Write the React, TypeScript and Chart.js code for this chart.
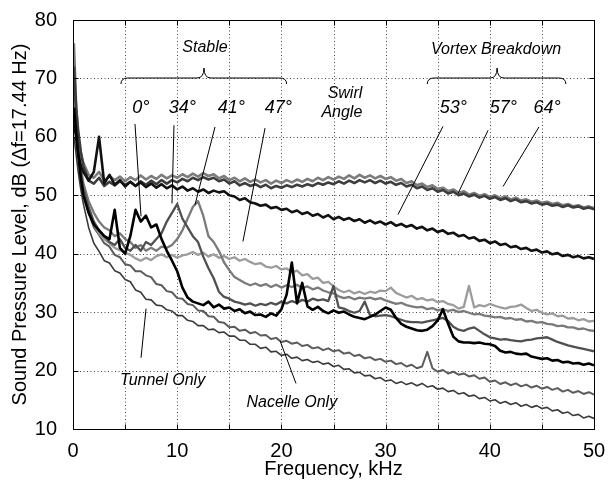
import { useEffect, useRef } from "react";
import { Chart, registerables } from "chart.js";

Chart.register(...registerables);

// Frequency grid of the narrow-band spectra (kHz)
const FREQ_KHZ = [
  0.1, 0.3, 0.5, 0.75,
  1, 1.5, 2, 2.5, 3, 3.5, 4, 4.5, 5, 5.5,
  6, 6.5, 7, 7.5, 8, 8.5, 9, 9.5, 10, 10.5,
  11, 11.5, 12, 12.5, 13, 13.5, 14, 14.5, 15, 15.5,
  16, 16.5, 17, 17.5, 18, 18.5, 19, 19.5, 20, 20.5,
  21, 21.5, 22, 22.5, 23, 23.5, 24, 24.5, 25, 25.5,
  26, 26.5, 27, 27.5, 28, 28.5, 29, 29.5, 30, 30.5,
  31, 31.5, 32, 32.5, 33, 33.5, 34, 34.5, 35, 35.5,
  36, 36.5, 37, 37.5, 38, 38.5, 39, 39.5, 40, 40.5,
  41, 41.5, 42, 42.5, 43, 43.5, 44, 44.5, 45, 45.5,
  46, 46.5, 47, 47.5, 48, 48.5, 49, 49.5, 50,
];

// Sound pressure level (dB) for each swirl angle and the two baselines
const SPL_0 = [
  65, 61, 57, 53,
  50, 47, 45, 44, 43, 42.5, 47.5, 41, 40, 43,
  47.5, 45.5, 46.5, 44.5, 45.0, 42.5, 40.5, 38.8, 37.0, 34.2,
  32.5, 31.8, 31.5, 31.2, 31.8, 30.8, 31.3, 30.6, 30.8, 30.2,
  30.5, 29.8, 30.1, 29.5, 29.6, 29.2, 29.8, 29.4, 30.5, 33.0,
  38.5, 31.5, 35.0, 31.0, 30.4, 30.9, 30.2, 29.8, 30.3, 29.9,
  30.1, 29.6, 29.2, 29.0, 28.8, 29.2, 29.6, 30.2, 30.8, 30.4,
  29.0, 28.0, 27.5, 27.2, 26.9, 26.8, 27.0, 27.6, 28.6, 30.5,
  28.0, 25.8, 25.0, 24.8, 24.8, 24.7, 24.8, 24.6, 24.5, 24.2,
  23.4, 23.1, 23.2, 22.9, 22.8, 22.9, 22.4, 22.2, 22.0, 22.1,
  21.7, 21.8, 21.4, 21.5, 21.2, 21.3, 21.0, 21.2, 20.9,
];

const SPL_34 = [
  70, 63, 58, 54,
  51, 48, 45.5, 44, 43, 42, 41.5, 42.5, 41, 40.5,
  41.5, 40.5, 42, 41.5, 42.5, 43.5, 45.5, 47, 48.5, 46,
  44.5, 43, 42, 39.5, 37.5, 35.8, 33.5, 32.6, 32.3, 31.8,
  31.6, 31.3, 31.5, 31.1, 31.4, 31.2, 31.6, 31.3, 31.8, 31.5,
  31.9, 31.6, 32.1, 31.8, 32.3, 32.0, 32.2, 31.9, 34.5, 30.8,
  30.6, 30.2, 29.9, 30.2, 31.8, 29.5, 29.3, 29.4, 29.5, 29.3,
  29.0, 28.7, 28.4, 28.3, 28.3, 28.2, 28.4, 28.6, 28.8, 29.0,
  28.5, 27.5, 27.0, 26.8, 27.2, 27.4, 26.8, 26.2, 25.7, 25.5,
  25.3, 25.4, 25.2, 25.1, 25.0, 25.2, 25.3, 25.5, 25.6, 25.7,
  25.3, 24.9, 24.6, 24.3, 24.1, 23.9, 23.7, 23.5, 23.3,
];

const SPL_41 = [
  76, 66, 60, 55,
  52, 49, 47, 45.5, 44.5, 44, 43, 43.5, 42.5, 42,
  41, 41.5, 40.5, 41, 40.5, 41.2, 41, 41.5, 42.5, 44,
  46, 48, 49, 46.5, 43, 42, 40.5, 38.5, 37.2, 36,
  35.5, 35, 34.6, 34.9, 34.5, 34.8, 34.3, 34.7, 34.2, 34.6,
  34.3, 34.7, 34.1, 34.4, 33.9, 34.2, 33.7, 33.4, 33.2, 32.7,
  32.4, 32.6, 32.2, 32.5, 32.3, 32.5, 32.2, 32.4, 32.0, 31.7,
  31.4, 31.6, 31.2, 31.0, 30.8, 30.9, 30.5, 30.7, 30.3, 30.5,
  30.2, 30.4, 30.0, 30.2, 29.9, 29.6, 29.7, 29.4, 29.3, 29.1,
  29.2, 28.9, 29.0, 28.7, 28.8, 28.4, 28.5, 28.2, 28.3, 28.0,
  27.9, 27.6, 27.7, 27.4, 27.4, 27.1, 27.2, 26.9, 26.8,
];

const SPL_47 = [
  68, 62, 58, 54,
  51, 47.5, 45, 43.5, 42.5, 41.8, 41, 40.6, 40.2, 39.8,
  39.2, 38.8, 39.3, 38.9, 39.6, 39.9, 39.4, 39.8, 39.3, 39.7,
  39.9, 40.3, 39.8, 40.2, 39.5, 39.9, 39.3, 39.6, 39.1, 39.4,
  38.8, 39.1, 38.6, 38.2, 38.4, 37.8, 37.6, 37.9, 37.3, 37.5,
  36.8, 37.1, 36.3, 36.5, 35.7, 35.9, 35.0, 35.2, 34.4, 33.8,
  33.4, 33.7, 33.2, 33.5, 33.1, 33.5, 33.3, 33.7, 33.6, 34.2,
  33.3, 32.9, 32.5, 32.8, 32.2, 32.4, 32.0, 32.2, 31.7, 31.9,
  31.4, 31.2, 30.6, 30.9, 34.5, 30.8, 31.2, 31.0, 31.4, 31.1,
  30.8, 30.6, 30.9, 31.0, 31.3, 30.7, 30.2, 30.4, 29.9, 29.6,
  29.8, 29.3, 29.4, 28.9, 29.0, 28.6, 28.8, 28.4, 28.5,
];

const SPL_53 = [
  62, 60, 57, 55,
  54, 52.5, 54, 60, 52, 53.5, 51.8, 52.6, 51.5, 52.3,
  51.6, 52.2, 51.4, 52.0, 51.3, 51.9, 51.2, 51.7, 51.0, 51.5,
  50.8, 51.2, 50.6, 51.0, 50.4, 50.8, 50.5, 50.7, 50.0, 49.8,
  49.2, 49.5, 48.8, 48.6, 48.2, 48.4, 47.8, 48.0, 47.5, 47.7,
  47.1, 47.4, 46.8, 47.1, 46.5, 46.8, 46.2, 46.6, 45.9, 46.3,
  45.8, 46.1, 45.6, 45.9, 45.3, 45.7, 45.2, 45.5, 45.0, 45.4,
  44.8, 45.1, 44.6, 44.9, 44.3, 44.6, 44.0, 44.3, 43.7, 44.0,
  43.4, 43.6, 43.0, 43.2, 42.6, 42.8, 42.2, 42.4, 41.8, 42.1,
  41.5, 41.7, 41.1, 41.3, 40.8, 41.0, 40.5, 40.7, 40.2, 40.4,
  39.9, 40.1, 39.6, 39.8, 39.4, 39.6, 39.2, 39.4, 39.1,
];

const SPL_57 = [
  72, 65, 61, 57.5,
  55, 52.5, 52, 53, 51.6, 52.3, 51.7, 52.4, 51.8, 52.3,
  51.6, 52.4, 51.8, 52.5, 51.9, 52.6, 52.0, 52.6, 52.2, 52.8,
  52.4, 53.0, 52.6, 53.1, 52.7, 53.0, 52.4, 52.7, 52.0, 52.4,
  51.7, 52.1, 51.6, 51.9, 51.4, 51.8, 51.2, 51.6, 51.3, 51.7,
  51.4, 51.8, 51.5, 51.9, 51.6, 52.1, 51.8, 52.2, 51.9, 52.4,
  52.0, 52.5, 52.1, 52.6, 52.2, 52.6, 52.1, 52.5, 52.0, 52.3,
  51.8, 52.1, 51.5, 51.8, 51.2, 51.5, 50.9, 51.2, 50.6, 50.9,
  50.3, 50.6, 50.0, 50.3, 49.8, 50.1, 49.6, 49.9, 49.4, 49.7,
  49.2, 49.5, 49.0, 49.3, 48.8, 49.0, 48.6, 48.8, 48.4, 48.6,
  48.2, 48.4, 48.0, 48.3, 47.9, 48.1, 47.7, 47.9, 47.6,
];

const SPL_64 = [
  66, 63, 60, 57,
  55.5, 53.5, 53.0, 54.0, 52.5, 53.3, 52.6, 53.2, 52.4, 53.1,
  52.6, 53.4, 52.7, 53.3, 52.8, 53.5, 52.9, 53.4, 53.0, 53.6,
  53.1, 53.7, 53.2, 53.8, 53.3, 53.6, 52.9, 53.3, 52.6, 53.0,
  52.4, 52.9, 52.3, 52.7, 52.2, 52.6, 52.0, 52.5, 52.1, 52.6,
  52.2, 52.7, 52.3, 52.8, 52.4, 53.0, 52.6, 53.1, 52.7, 53.2,
  52.8, 53.4, 52.9, 53.5, 53.0, 53.4, 52.9, 53.3, 52.8, 53.1,
  52.5, 52.8, 52.1, 52.4, 51.7, 52.0, 51.4, 51.7, 51.1, 51.3,
  50.7, 51.0, 50.4, 50.7, 50.1, 50.4, 49.9, 50.2, 49.7, 50.0,
  49.5, 49.8, 49.3, 49.6, 49.1, 49.3, 48.9, 49.1, 48.7, 48.9,
  48.5, 48.7, 48.3, 48.5, 48.1, 48.3, 47.9, 48.1, 47.8,
];

const SPL_TUNNEL = [
  60, 57, 54, 51,
  48.5, 44.5, 41.8, 40.4, 38.8, 38.4, 37.1, 36.7, 35.6, 35.2,
  33.8, 33.4, 32.2, 32.1, 31.2, 31.1, 30.4, 30.2, 29.4, 29.4,
  28.6, 28.4, 27.7, 27.7, 27.0, 27.1, 26.5, 26.6, 25.9, 25.9,
  25.2, 25.2, 24.5, 24.5, 23.8, 24.0, 23.2, 23.3, 22.6, 22.8,
  22.1, 22.3, 21.7, 21.9, 21.4, 21.6, 21.1, 21.3, 20.7, 20.9,
  20.2, 20.3, 19.6, 19.7, 19.1, 19.2, 18.6, 18.8, 18.2, 18.4,
  17.8, 18.1, 17.6, 17.9, 17.4, 17.8, 17.2, 17.4, 16.8, 17.0,
  16.4, 16.6, 16.0, 16.2, 15.6, 15.8, 15.2, 15.4, 14.8, 15.0,
  14.4, 14.7, 14.2, 14.5, 13.9, 14.2, 13.7, 14.0, 13.5, 13.7,
  13.1, 13.3, 12.7, 12.9, 12.3, 12.5, 11.9, 12.2, 11.8,
];

const SPL_NACELLE = [
  64, 60, 57, 53,
  50.5, 47.0, 44.5, 43.2, 41.8, 41.2, 39.8, 39.4, 38.2, 38.0,
  37.0, 37.0, 36.3, 36.0, 34.8, 34.6, 33.6, 33.4, 32.4, 32.3,
  31.4, 31.2, 30.3, 30.2, 29.3, 29.2, 28.3, 28.2, 27.4, 27.5,
  26.8, 27.0, 26.4, 26.6, 26.0, 26.1, 25.4, 25.6, 24.9, 25.1,
  24.6, 24.8, 24.2, 24.4, 23.8, 24.0, 23.5, 23.8, 23.3, 23.5,
  22.9, 23.1, 22.5, 22.7, 22.1, 22.3, 21.8, 22.0, 21.5, 21.7,
  21.1, 21.3, 20.7, 21.0, 20.4, 20.7, 23.2, 20.4, 19.8, 20.1,
  19.5, 19.8, 19.3, 19.5, 19.0, 19.2, 18.6, 18.8, 18.1, 18.3,
  17.7, 18.0, 17.5, 17.8, 17.3, 17.6, 17.1, 17.4, 16.9, 17.2,
  16.7, 17.0, 16.4, 16.7, 16.2, 16.5, 16.0, 16.3, 15.9,
];

// First entry is drawn on top
const SERIES = [
  { label: "0°", values: SPL_0, color: "#000000", width: 2.6 },
  { label: "53°", values: SPL_53, color: "#111111", width: 2.6 },
  { label: "57°", values: SPL_57, color: "#3d3d3d", width: 2.6 },
  { label: "64°", values: SPL_64, color: "#7c7c7c", width: 2.6 },
  { label: "34°", values: SPL_34, color: "#505050", width: 2.3 },
  { label: "41°", values: SPL_41, color: "#7a7a7a", width: 2.3 },
  { label: "47°", values: SPL_47, color: "#9c9c9c", width: 2.3 },
  { label: "Nacelle Only", values: SPL_NACELLE, color: "#5c5c5c", width: 2 },
  { label: "Tunnel Only", values: SPL_TUNNEL, color: "#3a3a3a", width: 1.6 },
];

const X_GRID = [5, 10, 15, 20, 25, 30, 35, 40, 45];
const Y_GRID = [20, 30, 40, 50, 60, 70];

const FONT = '"Liberation Sans", Arial, Helvetica, sans-serif';

// Annotation placements in data units (kHz, dB)
const ANGLE_TEXT = [
  { text: "0°", f: 6.5, db: 64.9 },
  { text: "34°", f: 10.5, db: 64.9 },
  { text: "41°", f: 15.2, db: 64.9 },
  { text: "47°", f: 19.7, db: 64.9 },
  { text: "53°", f: 36.5, db: 64.9 },
  { text: "57°", f: 41.3, db: 64.9 },
  { text: "64°", f: 45.5, db: 64.9 },
];

const NOTE_TEXT = [
  { text: "Stable", f: 12.67, db: 75.3 },
  { text: "Vortex Breakdown", f: 40.6, db: 75.0 },
  { text: "Swirl", f: 26.1, db: 67.4 },
  { text: "Angle", f: 25.8, db: 64.2 },
  { text: "Tunnel Only", f: 8.6, db: 18.3 },
  { text: "Nacelle Only", f: 21.0, db: 14.6 },
];

const POINTERS = [
  [5.95, 62.2, 6.53, 46.4],
  [9.69, 62.0, 9.5, 48.6],
  [13.63, 61.7, 11.71, 48.4],
  [18.43, 61.5, 16.31, 42.1],
  [35.51, 61.8, 31.19, 46.7],
  [39.83, 61.1, 36.95, 50.3],
  [44.72, 61.7, 41.27, 51.5],
  [7.01, 30.6, 6.53, 22.2],
  [19.87, 25.1, 21.4, 17.8],
];

// Braces: left end, tip, right end (kHz)
const BRACES = [
  { f1: 4.6, fc: 12.57, f2: 20.5 },
  { f1: 34.0, fc: 40.7, f2: 47.3 },
];

const gridPlugin = {
  id: "dottedGrid",
  beforeDatasetsDraw(chart: any) {
    const { ctx, chartArea: a, scales } = chart;
    ctx.save();
    ctx.strokeStyle = "#444";
    ctx.lineWidth = 1;
    ctx.setLineDash([1, 2.5]);
    for (const v of X_GRID) {
      const x = Math.round(scales.x.getPixelForValue(v)) + 0.5;
      ctx.beginPath();
      ctx.moveTo(x, a.top);
      ctx.lineTo(x, a.bottom);
      ctx.stroke();
    }
    for (const v of Y_GRID) {
      const y = Math.round(scales.y.getPixelForValue(v)) + 0.5;
      ctx.beginPath();
      ctx.moveTo(a.left, y);
      ctx.lineTo(a.right, y);
      ctx.stroke();
    }
    ctx.restore();
  },
};

const framePlugin = {
  id: "frameAndNotes",
  afterDraw(chart: any) {
    const { ctx, chartArea: a, scales } = chart;
    const px = (f: number) => scales.x.getPixelForValue(f);
    const py = (d: number) => scales.y.getPixelForValue(d);
    ctx.save();
    ctx.setLineDash([]);
    ctx.strokeStyle = "#000";
    ctx.lineWidth = 1;
    const l = Math.round(a.left) + 0.5;
    const r = Math.round(a.right) + 0.5;
    const t = Math.round(a.top) + 0.5;
    const b = Math.round(a.bottom) + 0.5;
    ctx.strokeRect(l, t, r - l, b - t);
    // inward tick marks on all four sides
    const tk = 5;
    ctx.beginPath();
    for (const v of X_GRID) {
      const x = Math.round(px(v)) + 0.5;
      ctx.moveTo(x, b);
      ctx.lineTo(x, b - tk);
      ctx.moveTo(x, t);
      ctx.lineTo(x, t + tk);
    }
    for (const v of Y_GRID) {
      const y = Math.round(py(v)) + 0.5;
      ctx.moveTo(l, y);
      ctx.lineTo(l + tk, y);
      ctx.moveTo(r, y);
      ctx.lineTo(r - tk, y);
    }
    ctx.stroke();

    // pointer lines
    ctx.lineWidth = 1;
    ctx.beginPath();
    for (const [f1, d1, f2, d2] of POINTERS) {
      ctx.moveTo(px(f1), py(d1));
      ctx.lineTo(px(f2), py(d2));
    }
    ctx.stroke();

    // braces over the regime groups
    const yEnd = 84;
    const yH = 78;
    const yTip = 68;
    const rad = 7;
    for (const br of BRACES) {
      const x1 = px(br.f1);
      const xc = px(br.fc);
      const x2 = px(br.f2);
      ctx.beginPath();
      ctx.moveTo(x1, yEnd);
      ctx.quadraticCurveTo(x1, yH, x1 + rad, yH);
      ctx.lineTo(xc - rad, yH);
      ctx.quadraticCurveTo(xc, yH, xc, yTip);
      ctx.quadraticCurveTo(xc, yH, xc + rad, yH);
      ctx.lineTo(x2 - rad, yH);
      ctx.quadraticCurveTo(x2, yH, x2, yEnd);
      ctx.stroke();
    }

    ctx.fillStyle = "#000";
    ctx.textAlign = "center";
    ctx.textBaseline = "middle";
    ctx.font = `italic 18px ${FONT}`;
    for (const n of ANGLE_TEXT) ctx.fillText(n.text, px(n.f), py(n.db));
    ctx.font = `italic 16px ${FONT}`;
    for (const n of NOTE_TEXT) ctx.fillText(n.text, px(n.f), py(n.db));
    ctx.restore();
  },
};

export default function App() {
  const canvasRef = useRef<HTMLCanvasElement>(null);

  useEffect(() => {
    document.body.style.margin = "0";
    const canvas = canvasRef.current;
    if (!canvas) return;
    const chart = new Chart(canvas, {
      type: "line",
      data: {
        datasets: SERIES.map((s) => ({
          label: s.label,
          data: FREQ_KHZ.map((f, i) => ({ x: f, y: s.values[i] })),
          borderColor: s.color,
          borderWidth: s.width,
          pointRadius: 0,
          tension: 0,
          fill: false,
          borderJoinStyle: "round" as const,
        })),
      },
      options: {
        responsive: false,
        animation: false,
        events: [],
        layout: { padding: { top: 17, right: 17, left: 0, bottom: 0 } },
        plugins: { legend: { display: false }, tooltip: { enabled: false } },
        scales: {
          x: {
            type: "linear",
            min: 0,
            max: 50,
            grid: { display: false },
            border: { display: false },
            ticks: {
              stepSize: 5,
              autoSkip: false,
              maxRotation: 0,
              padding: 2,
              color: "#000",
              font: { family: FONT, size: 20 },
              callback: (v: any) => (Number(v) % 10 === 0 ? String(v) : ""),
            },
            title: {
              display: true,
              text: "Frequency, kHz",
              color: "#000",
              font: { family: FONT, size: 20 },
              padding: { top: 0, bottom: 0 },
            },
            afterFit: (s: any) => {
              s.height = 52;
            },
          },
          y: {
            type: "linear",
            min: 10,
            max: 80,
            grid: { display: false },
            border: { display: false },
            ticks: {
              stepSize: 10,
              padding: 8,
              color: "#000",
              font: { family: FONT, size: 20 },
            },
            title: {
              display: true,
              text: "Sound Pressure Level, dB (Δf=17.44 Hz)",
              color: "#000",
              font: { family: FONT, size: 20 },
              padding: { top: 8, bottom: 0 },
            },
            afterFit: (s: any) => {
              s.width = 73;
            },
          },
        },
      },
      plugins: [gridPlugin, framePlugin],
    });
    return () => chart.destroy();
  }, []);

  return (
    <div style={{ position: "absolute", left: 0, top: 0, width: 611, height: 481 }}>
      <canvas ref={canvasRef} width={611} height={481} style={{ display: "block", width: 611, height: 481 }} />
    </div>
  );
}
